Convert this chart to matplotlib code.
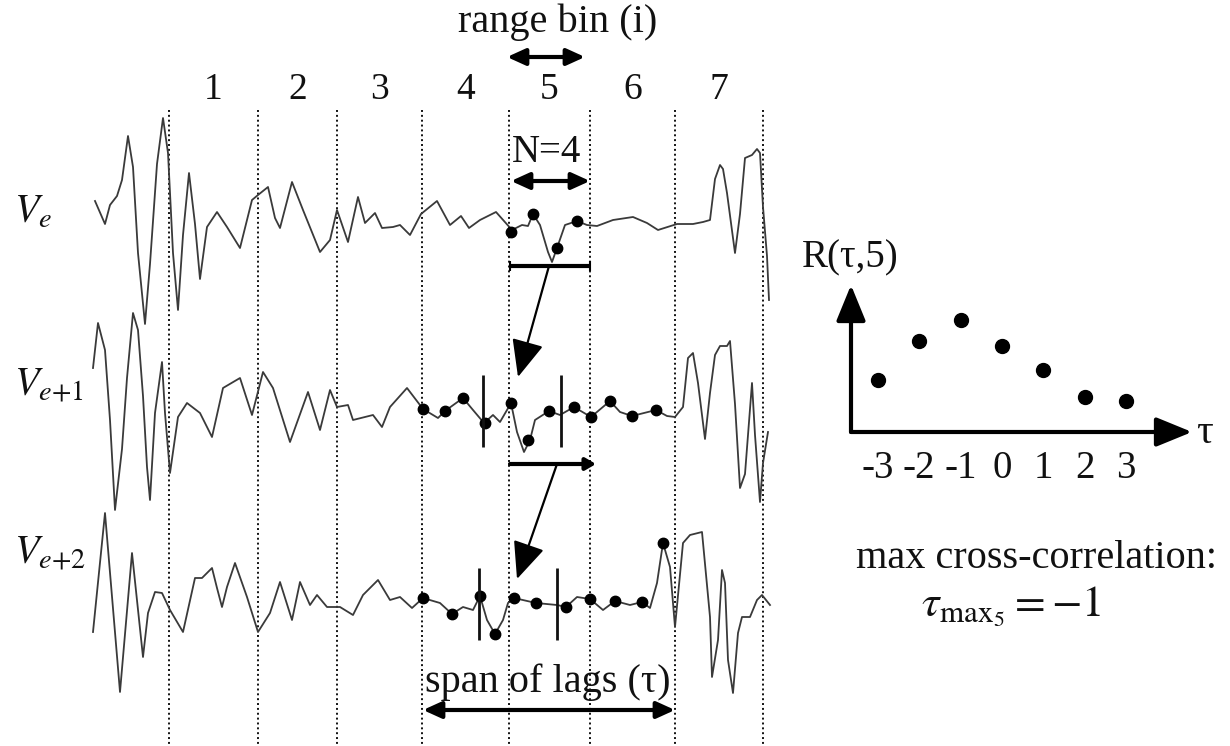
import matplotlib
matplotlib.use("Agg")
import matplotlib.pyplot as plt
import numpy as np

plt.rcParams['font.family'] = ['Liberation Serif', 'DejaVu Serif']
plt.rcParams['mathtext.fontset'] = 'stix'

# range bins and their edges (sample positions)
bin_labels = ['1', '2', '3', '4', '5', '6', '7']
bin_edges = [169, 258, 337, 422, 509, 590, 675, 763]

# traces: sample position, amplitude (screen y)
ve_x = [95, 105, 110, 117, 122, 128, 133, 138, 145, 150, 157, 163, 168, 173, 178, 183, 189, 195, 200, 207,
        217, 227, 240, 252, 258, 268, 275, 280, 292, 303, 320, 330, 337, 348, 358, 365, 375, 382, 393, 400,
        410, 421, 437, 450, 461, 469, 480, 496, 512, 522, 528, 533, 540, 548, 552, 557, 565, 577, 587, 597,
        613, 633, 647, 658, 677, 693, 703, 710, 715, 720, 723, 727, 735, 740, 745, 752, 757, 760, 763, 767, 769]
ve_y = [201, 224, 205, 196, 180, 136, 167, 253, 324, 264, 164, 118, 153, 253, 310, 235, 173, 224, 279, 227,
        212, 227, 248, 200, 195, 187, 218, 228, 182, 210, 252, 240, 210, 242, 197, 223, 213, 228, 227, 225,
        235, 214, 201, 225, 216, 228, 220, 212, 230, 225, 226, 214, 225, 252, 262, 248, 225, 221, 225, 226,
        220, 217, 223, 230, 224, 224, 222, 220, 179, 165, 169, 193, 253, 214, 158, 155, 149, 153, 207, 256, 300]

ve1_x = [93, 98, 105, 110, 115, 122, 127, 133, 138, 143, 147, 150, 155, 162, 165, 170, 178, 187, 200, 212,
         223, 240, 252, 263, 273, 290, 308, 320, 330, 337, 348, 353, 373, 382, 390, 407, 423, 438, 445, 463,
         473, 484, 493, 500, 507, 511, 517, 524, 530, 535, 549, 560, 574, 591, 610, 620, 632, 656, 667, 675,
         683, 688, 693, 698, 705, 710, 715, 720, 727, 730, 735, 740, 745, 752, 755, 760, 763, 768]
ve1_y = [368, 323, 350, 420, 510, 449, 378, 313, 330, 396, 467, 500, 413, 362, 413, 473, 417, 403, 413, 437,
         388, 378, 415, 372, 388, 442, 392, 430, 390, 407, 405, 420, 415, 427, 407, 388, 409, 418, 411, 398,
         410, 423, 415, 422, 410, 403, 432, 452, 440, 420, 411, 415, 407, 417, 401, 412, 416, 410, 416, 417,
         407, 358, 353, 383, 439, 393, 355, 346, 346, 341, 404, 488, 474, 383, 435, 502, 463, 432]

ve2_x = [93, 105, 120, 132, 143, 148, 155, 162, 170, 183, 195, 202, 212, 217, 222, 227, 235, 247, 258, 270,
         280, 292, 300, 310, 317, 327, 340, 353, 363, 378, 390, 400, 412, 423, 440, 452, 463, 473, 480, 487,
         495, 503, 508, 514, 536, 557, 566, 577, 590, 603, 615, 630, 642, 650, 657, 663, 670, 675, 683, 690,
         698, 702, 710, 712, 718, 722, 725, 728, 733, 738, 742, 750, 757, 762, 770]
ve2_y = [632, 513, 692, 553, 657, 613, 592, 593, 610, 632, 578, 578, 568, 588, 607, 587, 563, 597, 632, 613,
         582, 620, 582, 605, 595, 607, 607, 615, 595, 580, 600, 597, 608, 598, 603, 614, 607, 610, 596, 620,
         634, 620, 603, 598, 603, 605, 607, 597, 599, 610, 601, 605, 602, 608, 583, 543, 567, 627, 543, 535,
         533, 532, 617, 677, 640, 570, 583, 660, 693, 633, 617, 617, 600, 595, 605]

# sampled points (black dots)
dots_ve_x = [511, 533, 557, 577]
dots_ve_y = [232, 214, 248, 221]
dots_ve1_x = [423, 445, 463, 485, 511, 528, 549, 574, 591, 610, 632, 656]
dots_ve1_y = [409, 411, 398, 423, 403, 440, 411, 407, 417, 401, 416, 410]
dots_ve2_x = [423, 452, 480, 495, 514, 536, 566, 590, 615, 642, 663]
dots_ve2_y = [598, 614, 596, 634, 598, 603, 607, 599, 601, 602, 543]

# cross-correlation vs lag
tau = [-3, -2, -1, 0, 1, 2, 3]
r_tau = [0.52, 0.91, 1.12, 0.86, 0.62, 0.35, 0.31]

fig = plt.figure(figsize=(12.3, 7.46), dpi=100)
ax = fig.add_axes([0, 0, 1, 1])
ax.set_xlim(0, 1230)
ax.set_ylim(746, 0)
ax.axis('off')

ink = '#111111'

# dotted bin boundaries
ax.vlines(bin_edges, 110, 746, colors=ink, linestyles=(0, (1, 1.5)), linewidth=1.4)

for i, lab in enumerate(bin_labels):
    ax.text((bin_edges[i] + bin_edges[i + 1]) / 2, 90, lab, fontsize=27,
            ha='center', va='center', color=ink)

# traces
for xs, ys in [(ve_x, ve_y), (ve1_x, ve1_y), (ve2_x, ve2_y)]:
    ax.plot(xs, ys, color='#3a3a3a', linewidth=1.3)

for xs, ys in [(dots_ve_x, dots_ve_y), (dots_ve1_x, dots_ve1_y), (dots_ve2_x, dots_ve2_y)]:
    ax.plot(xs, ys, 'o', color='black', markersize=7.5, linestyle='none')

# trace labels
ax.text(14, 213, r'$V_e$', fontsize=29, ha='left', va='center', color=ink)
ax.text(14, 385, r'$V_{e{+}1}$', fontsize=29, ha='left', va='center', color=ink)
ax.text(14, 553, r'$V_{e{+}2}$', fontsize=29, ha='left', va='center', color=ink)

# lag window markers
ax.vlines([483, 561], 375, 447, colors=ink, linewidth=2)
ax.vlines([479, 557], 568, 640, colors=ink, linewidth=2)

def darrow(x0, x1, y, hl=1.1, hw=0.5):
    ax.annotate('', xy=(x1, y), xytext=(x0, y),
                arrowprops=dict(arrowstyle=f'<|-|>,head_length={hl},head_width={hw}',
                                color='black', lw=3, shrinkA=0, shrinkB=0,
                                mutation_scale=10))

# range bin
ax.text(558, 22, 'range bin (i)', fontsize=29, ha='center', va='center', color=ink)
darrow(bin_edges[4] - 2, bin_edges[5] - 5, 57)

# N=4 window
ax.text(547, 152, 'N=4', fontsize=28, ha='center', va='center', color=ink)
darrow(bin_edges[4] + 2, bin_edges[5], 181)

# window bars
ax.plot([bin_edges[4] + 1, bin_edges[5]], [266, 266], color='black', lw=3, solid_capstyle='butt')
ax.vlines([bin_edges[4] + 1, bin_edges[5]], 261, 271, colors='black', lw=1.5)
ax.annotate('', xy=(596, 464), xytext=(bin_edges[4] + 1, 464),
            arrowprops=dict(arrowstyle='-|>,head_length=0.6,head_width=0.35', color='black',
                            lw=3, shrinkA=0, shrinkB=0, mutation_scale=10))

# shift arrows
for x0, y0, x1, y1 in [(549, 266, 518, 377), (557, 464, 517, 579)]:
    ax.annotate('', xy=(x1, y1), xytext=(x0, y0),
                arrowprops=dict(arrowstyle='-|>,head_length=2.3,head_width=1.0', color='black',
                                lw=1.6, shrinkA=0, shrinkB=0, mutation_scale=10))

# span of lags
ax.text(548, 682, 'span of lags (\u03c4)', fontsize=29, ha='center', va='center', color=ink)
darrow(bin_edges[3] + 1, bin_edges[6], 710)

# text on the right
ax.text(1036, 558, 'max cross-correlation:', fontsize=29, ha='center', va='center', color=ink)
ax.text(1011, 606, r'$\tau_{\mathrm{max}_5} = -1$', fontsize=32, ha='center', va='center', color=ink)
ax.text(850, 258, 'R(\u03c4,5)', fontsize=28, ha='center', va='center', color=ink)
ax.text(1196, 433, '\u03c4', fontsize=30, ha='left', va='center', color=ink)

# R(tau) inset
W, H = 1230.0, 746.0
ox, oy, rx, ty = 851, 432, 1192, 285
rax = fig.add_axes([ox / W, (H - oy) / H, (rx - ox) / W, (oy - ty) / H])
rax.patch.set_alpha(0)
rax.set_xlim(-3.65, 4.6)
rax.set_ylim(0, 1.47)
for s in rax.spines.values():
    s.set_visible(False)
rax.plot(tau, r_tau, 'o', color='black', markersize=10)
rax.set_xticks(tau)
rax.set_xticklabels([str(t) for t in tau], fontsize=28, color=ink)
rax.tick_params(axis='x', length=0, pad=13)
rax.set_yticks([])
for xy in [(1, 0), (0, 1)]:
    rax.annotate('', xy=xy, xytext=(0, 0), xycoords='axes fraction', textcoords='axes fraction',
                 arrowprops=dict(arrowstyle='-|>,head_length=2.2,head_width=0.9', color='black',
                                 lw=3, shrinkA=0, shrinkB=0, mutation_scale=10))

fig.savefig('out.png', dpi=100, facecolor='white')
